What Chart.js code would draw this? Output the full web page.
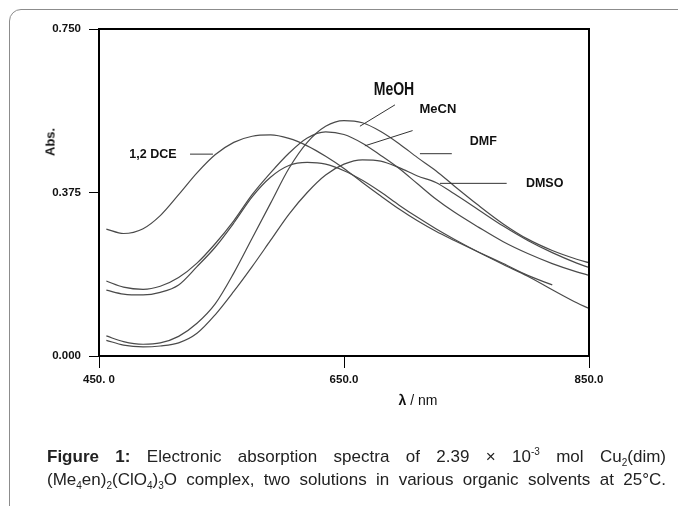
<!DOCTYPE html>
<html>
<head>
<meta charset="utf-8">
<script src="https://cdn.jsdelivr.net/npm/chart.js@4"></script>
<style>
  body { margin: 0; background: #fff; width: 678px; height: 506px; overflow: hidden; position: relative; font-family: 'Liberation Sans', Arial, sans-serif; }
  #frame { position: absolute; left: 9px; top: 9px; width: 720px; height: 560px; border: 1.5px solid #8c8c8c; border-radius: 12px; }
  #chart { position: absolute; left: 0; top: 0; }
  .ytitle { position: absolute; left: 50px; top: 142px; transform: translate(-50%, -50%) rotate(-90deg); font: bold 13px 'Liberation Sans', Arial, sans-serif; color: #111; }
  .xtitle { position: absolute; left: 418px; top: 400px; transform: translate(-50%, -50%); font: 14px 'Liberation Sans', Arial, sans-serif; color: #111; white-space: nowrap; }
  .caption { position: absolute; left: 47px; width: 619px; font: 17px 'Liberation Sans', Arial, sans-serif; color: #222; text-align: justify; text-align-last: justify; white-space: nowrap; }
  .caption sub, .caption sup { font-size: 10px; line-height: 0; }
</style>
</head>
<body>
<div id="frame"></div>
<canvas id="chart" width="678" height="506"></canvas>
<div class="ytitle">Abs.</div>
<div class="xtitle"><b>λ</b> / nm</div>
<div class="caption" style="top:447px"><b>Figure 1:</b> Electronic absorption spectra of 2.39 × 10<sup>-3</sup> mol Cu<sub>2</sub>(dim)</div>
<div class="caption" style="top:470px">(Me<sub>4</sub>en)<sub>2</sub>(ClO<sub>4</sub>)<sub>3</sub>O complex, two solutions in various organic solvents at 25°C.</div>
<script>
// wavelengths (nm)
const wavelength = [456, 470, 486, 500, 515, 530, 545, 560, 575, 590, 605, 620, 635, 650, 665, 680, 695, 710, 725, 740, 760, 780, 800, 820, 840, 850];

// absorbance of each curve
const dce  = [0.291, 0.281, 0.292, 0.322, 0.370, 0.420, 0.462, 0.490, 0.504, 0.507, 0.499, 0.482, 0.458, 0.430, 0.398, 0.367, 0.337, 0.310, 0.286, 0.265, 0.238, 0.212, 0.185, 0.163, null, null];
const mecn = [0.172, 0.158, 0.153, 0.160, 0.180, 0.213, 0.258, 0.310, 0.370, 0.420, 0.465, 0.500, 0.514, 0.508, 0.488, 0.460, 0.430, 0.395, 0.360, 0.330, 0.295, 0.262, 0.235, 0.212, 0.193, 0.185];
const dmf  = [0.151, 0.142, 0.140, 0.146, 0.163, 0.205, 0.250, 0.305, 0.365, 0.410, 0.437, 0.444, 0.440, 0.425, 0.403, 0.376, 0.346, 0.318, 0.292, 0.268, 0.238, 0.210, 0.183, 0.152, 0.122, 0.109];
const meoh = [0.046, 0.033, 0.027, 0.030, 0.045, 0.075, 0.120, 0.190, 0.270, 0.350, 0.430, 0.490, 0.527, 0.540, 0.535, 0.515, 0.487, 0.455, 0.425, 0.390, 0.345, 0.303, 0.268, 0.242, 0.222, 0.214];
const dmso = [0.036, 0.025, 0.021, 0.023, 0.030, 0.052, 0.095, 0.148, 0.205, 0.265, 0.325, 0.375, 0.415, 0.440, 0.450, 0.447, 0.432, 0.413, 0.398, 0.372, 0.335, 0.298, 0.265, 0.237, 0.213, 0.203];

const xTicks = [450, 650, 850];
const xTickLabels = ['450. 0', '650.0', '850.0'];
const yTicks = [0, 0.375, 0.75];

// curve labels: text position and leader line, in data units
const noteText = ['1,2 DCE', 'MeOH', 'MeCN', 'DMF', 'DMSO'];
const noteAt   = [[494, 0.463], [690.8, 0.609], [726.7, 0.565], [763.7, 0.492], [813.8, 0.395]];
const noteLine = [[[524.3, 0.463], [543, 0.463]], [[691.6, 0.576], [663, 0.527]], [[706, 0.517], [667, 0.482]], [[738, 0.464], [712, 0.464]], [[782.8, 0.396], [728.3, 0.396]]];

function series(label, values) {
    return {
        label: label,
        data: wavelength.map((w, i) => ({x: w, y: values[i]})),
        borderColor: '#4a4a4a',
        borderWidth: 1.2,
        pointRadius: 0,
        fill: false,
        cubicInterpolationMode: 'monotone',
        spanGaps: false
    };
}

const frameAndNotes = {
    id: 'frameAndNotes',
    afterDraw(chart) {
        const ctx = chart.ctx;
        const a = chart.chartArea;
        const xs = chart.scales.x, ys = chart.scales.y;
        ctx.save();
        ctx.strokeStyle = '#000';
        ctx.lineWidth = 2;
        ctx.beginPath();
        ctx.moveTo(a.left, a.top);
        ctx.lineTo(a.right, a.top);
        ctx.lineTo(a.right, a.bottom);
        ctx.stroke();

        ctx.lineWidth = 1;
        ctx.strokeStyle = '#333';
        noteLine.forEach(seg => {
            ctx.beginPath();
            ctx.moveTo(xs.getPixelForValue(seg[0][0]), ys.getPixelForValue(seg[0][1]));
            ctx.lineTo(xs.getPixelForValue(seg[1][0]), ys.getPixelForValue(seg[1][1]));
            ctx.stroke();
        });
        ctx.fillStyle = '#111';
        ctx.textAlign = 'center';
        ctx.textBaseline = 'middle';
        noteText.forEach((t, i) => {
            const px = xs.getPixelForValue(noteAt[i][0]);
            const py = ys.getPixelForValue(noteAt[i][1]);
            if (t === 'MeOH') {
                // condensed look of the original label
                ctx.save();
                ctx.translate(px, py);
                ctx.scale(0.78, 1);
                ctx.font = 'bold 18px "Liberation Sans", Arial';
                ctx.fillText(t, 0, 0);
                ctx.restore();
            } else {
                ctx.font = (t === 'MeCN' ? 'bold 13px' : 'bold 12.5px') + ' "Liberation Sans", Arial';
                ctx.fillText(t, px, py);
            }
        });
        ctx.restore();
    }
};

new Chart(document.getElementById('chart'), {
    type: 'line',
    data: {
        datasets: [
            series('1,2 DCE', dce),
            series('MeCN', mecn),
            series('DMF', dmf),
            series('MeOH', meoh),
            series('DMSO', dmso)
        ]
    },
    options: {
        responsive: false,
        animation: false,
        layout: { padding: { left: 0, top: 29, right: 89, bottom: 0 } },
        plugins: { legend: { display: false }, tooltip: { enabled: false } },
        scales: {
            x: {
                type: 'linear',
                min: 450,
                max: 850,
                afterBuildTicks: s => { s.ticks = xTicks.map(v => ({value: v})); },
                afterFit: s => { s.height = 150; },
                ticks: {
                    callback: (v) => xTickLabels[xTicks.indexOf(v)],
                    color: '#111',
                    font: { family: 'Liberation Sans', size: 11.5, weight: 'bold' },
                    padding: 5,
                    maxRotation: 0
                },
                grid: { drawOnChartArea: false, drawTicks: true, tickLength: 12, color: '#000' },
                border: { display: true, color: '#000', width: 2 }
            },
            y: {
                min: 0,
                max: 0.75,
                afterBuildTicks: s => { s.ticks = yTicks.map(v => ({value: v})); },
                afterFit: s => { s.width = 99; },
                ticks: {
                    callback: (v) => v.toFixed(3),
                    color: '#111',
                    font: { family: 'Liberation Sans', size: 11.5, weight: 'bold' },
                    padding: 8
                },
                grid: { drawOnChartArea: false, drawTicks: true, tickLength: 10, color: '#000' },
                border: { display: true, color: '#000', width: 2 }
            }
        }
    },
    plugins: [frameAndNotes]
});
</script>
</body>
</html>
